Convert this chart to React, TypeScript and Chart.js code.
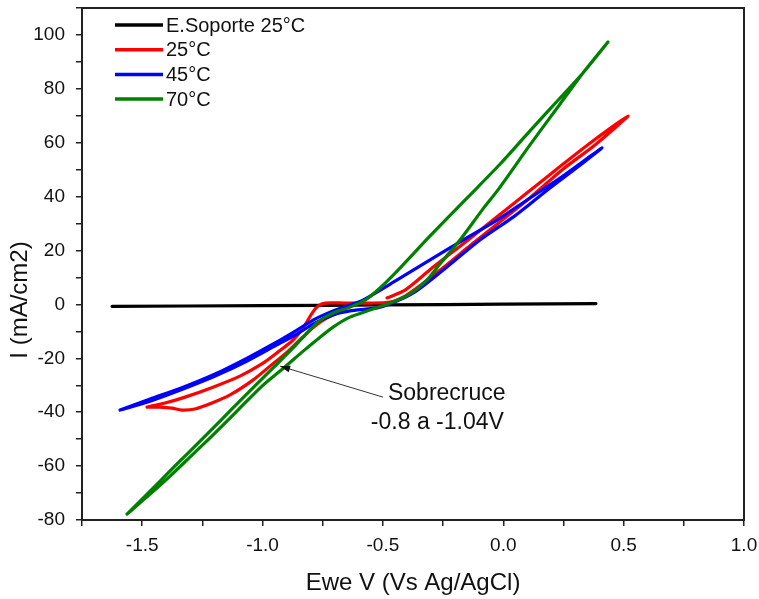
import { useEffect, useRef } from 'react';
import { Chart, registerables } from 'chart.js';

Chart.register(...registerables);

// ---- Data (Ewe V vs Ag/AgCl, I mA/cm2) ----
const soporteV = [-1.625, -1.0, -0.5, 0.0, 0.385];
const soporteI = [-0.7, -0.45, -0.2, 0.1, 0.3];

const t25V = [
  -0.483, -0.408, -0.296, -0.146, -0.022, 0.099, 0.228, 0.361, 0.518,
  0.381, 0.244, 0.115, -0.009, -0.13, -0.246, -0.337, -0.408, -0.47, -0.554, -0.657, -0.74, -0.77, -0.794, -0.832, -0.873, -0.936, -0.998, -1.094, -1.206, -1.322, -1.405, -1.48,
  -1.426, -1.376, -1.335, -1.281, -1.21, -1.135, -1.04, -0.969, -0.898, -0.832, -0.782, -0.732, -0.678,
];
const t25I = [
  2.4, 5.3, 13.5, 23.9, 32.8, 41.4, 50.6, 59.9, 69.9,
  59.2, 49.9, 39.9, 31.0, 22.4, 13.9, 7.6, 3.1, 0.9, 0.5, 0.5, 0.5, -0.7, -3.2, -8.8, -13.2, -17.7, -21.8, -26.6, -30.7, -34.4, -36.6, -38.1,
  -38.1, -38.5, -39.2, -38.8, -36.6, -33.6, -28.1, -22.9, -17.7, -12.1, -8.0, -5.0, -2.8,
];

const t45V = [
  -1.592, -1.467, -1.33, -1.197, -1.064, -0.948, -0.857, -0.79, -0.707, -0.637, -0.583, -0.441, -0.304, -0.167, -0.026, 0.111, 0.236, 0.34, 0.41,
  0.331, 0.194, 0.111, 0.041, -0.097, -0.234, -0.375, -0.512, -0.637, -0.707, -0.79, -0.857, -0.948, -1.064, -1.197, -1.33, -1.467, -1.592,
];
const t45I = [
  -39.2, -35.1, -30.7, -25.8, -19.9, -14.3, -9.5, -5.8, -2.4, -0.2, 1.6, 9.1, 16.5, 23.9, 31.3, 39.5, 46.9, 53.6, 58.1,
  52.5, 43.2, 37.3, 32.4, 23.9, 13.9, 4.2, -1.0, -2.4, -3.9, -7.3, -11.0, -15.4, -21.0, -26.6, -31.4, -35.9, -39.2,
];

const t70V = [
  -1.563, -1.467, -1.384, -1.301, -1.218, -1.127, -1.04, -0.952, -0.865, -0.811, -0.77, -0.707, -0.637, -0.574, -0.512, -0.429, -0.304, -0.15, -0.013, 0.111, 0.236, 0.331, 0.435,
  0.331, 0.236, 0.111, -0.022, -0.088, -0.18, -0.263, -0.317, -0.387, -0.47, -0.554, -0.637, -0.707, -0.77, -0.836, -0.907, -1.002, -1.102, -1.202, -1.293, -1.384, -1.467, -1.563,
];
const t70I = [
  -77.8, -69.3, -61.8, -54.4, -47.0, -38.8, -31.0, -23.2, -15.4, -10.2, -6.5, -3.2, -1.0, 1.6, 6.1, 13.5, 25.4, 39.5, 52.1, 64.4, 76.6, 85.9, 97.4,
  85.9, 74.4, 59.2, 42.5, 35.0, 23.9, 15.0, 9.1, 3.9, 0.5, -2.1, -4.7, -8.4, -12.8, -17.7, -23.2, -30.3, -39.2, -48.1, -55.9, -63.7, -70.4, -77.8,
];

const seriesLabels = ['E.Soporte 25°C', '25°C', '45°C', '70°C'];
const seriesColors = ['#000000', '#ff0000', '#0000ff', '#008000'];

const annotationLines = ['Sobrecruce', '-0.8 a -1.04V'];
const annotationTextPos = [
  { x: -0.479, y: -33.3 },
  { x: -0.55, y: -43.7 },
];
const arrowFrom = { x: -0.5, y: -34.4 };
const arrowTo = { x: -0.927, y: -22.9 };

const xTitle = 'Ewe V (Vs Ag/AgCl)';
const yTitle = 'I (mA/cm2)';

const FONT = '"Liberation Sans", Arial, Helvetica, sans-serif';

function toPoints(v: number[], i: number[]) {
  return v.map((x, k) => ({ x, y: i[k] }));
}

const decorPlugin = {
  id: 'decor',
  afterDraw(chart: any) {
    const { ctx, chartArea, scales } = chart;
    const { left, top, right, bottom } = chartArea;
    const xs = scales.x;
    const ys = scales.y;
    ctx.save();
    // frame
    ctx.strokeStyle = '#222';
    ctx.lineWidth = 2;
    ctx.strokeRect(left, top, right - left, bottom - top);

    // legend
    ctx.font = `20px ${FONT}`;
    ctx.textBaseline = 'middle';
    ctx.textAlign = 'left';
    chart.data.datasets.forEach((ds: any, k: number) => {
      const yy = top + 17 + k * 24.7;
      ctx.strokeStyle = ds.borderColor;
      ctx.lineWidth = 3.5;
      ctx.beginPath();
      ctx.moveTo(left + 33, yy);
      ctx.lineTo(left + 81, yy);
      ctx.stroke();
      ctx.fillStyle = '#111';
      ctx.fillText(ds.label, left + 84, yy + 1);
    });

    // annotation arrow
    const x0 = xs.getPixelForValue(arrowFrom.x);
    const y0 = ys.getPixelForValue(arrowFrom.y);
    const x1 = xs.getPixelForValue(arrowTo.x);
    const y1 = ys.getPixelForValue(arrowTo.y);
    ctx.strokeStyle = '#333';
    ctx.lineWidth = 1;
    ctx.beginPath();
    ctx.moveTo(x0, y0);
    ctx.lineTo(x1, y1);
    ctx.stroke();
    const ang = Math.atan2(y1 - y0, x1 - x0);
    const L = 10;
    const W = 3.5;
    ctx.fillStyle = '#111';
    ctx.beginPath();
    ctx.moveTo(x1, y1);
    ctx.lineTo(x1 - L * Math.cos(ang) + W * Math.sin(ang), y1 - L * Math.sin(ang) - W * Math.cos(ang));
    ctx.lineTo(x1 - L * Math.cos(ang) - W * Math.sin(ang), y1 - L * Math.sin(ang) + W * Math.cos(ang));
    ctx.closePath();
    ctx.fill();

    ctx.font = `23px ${FONT}`;
    ctx.fillStyle = '#111';
    ctx.textBaseline = 'middle';
    annotationLines.forEach((t, k) => {
      ctx.fillText(t, xs.getPixelForValue(annotationTextPos[k].x), ys.getPixelForValue(annotationTextPos[k].y));
    });

    // axis titles
    ctx.font = `24px ${FONT}`;
    ctx.textAlign = 'center';
    ctx.textBaseline = 'alphabetic';
    ctx.fillText(xTitle, (left + right) / 2, 590);
    ctx.save();
    ctx.translate(27, 300);
    ctx.rotate(-Math.PI / 2);
    ctx.fillText(yTitle, 0, 0);
    ctx.restore();
    ctx.restore();
  },
};

export default function App() {
  const ref = useRef<HTMLCanvasElement | null>(null);
  useEffect(() => {
    document.body.style.margin = '0';
    if (!ref.current) return;
    const series = [
      toPoints(soporteV, soporteI),
      toPoints(t25V, t25I),
      toPoints(t45V, t45I),
      toPoints(t70V, t70I),
    ];
    const chart = new Chart(ref.current, {
      type: 'scatter',
      data: {
        datasets: series.map((d, k) => ({
          label: seriesLabels[k],
          data: d,
          showLine: true,
          borderColor: seriesColors[k],
          backgroundColor: seriesColors[k],
          borderWidth: 3.2,
          pointRadius: 0,
          tension: 0.25,
          order: 4 - k,
          borderCapStyle: 'round',
          borderJoinStyle: 'round',
        })) as any,
      },
      options: {
        animation: false,
        responsive: false,
        layout: { padding: { left: 0, right: 15, top: 8, bottom: 0 } },
        plugins: { legend: { display: false }, tooltip: { enabled: false } },
        scales: {
          x: {
            type: 'linear',
            min: -1.75,
            max: 1.0,
            afterFit: (axis: any) => {
              axis.height = 79;
              axis.paddingLeft = 0;
              axis.paddingRight = 0;
              axis.paddingTop = 0;
              axis.paddingBottom = 0;
            },
            ticks: {
              stepSize: 0.25,
              autoSkip: false,
              maxRotation: 0,
              padding: 8,
              color: '#111',
              font: { family: FONT, size: 19 },
              callback: (v: any) => {
                const n = Number(v);
                return Math.abs(n * 2 - Math.round(n * 2)) < 1e-6 && n > -1.7 ? n.toFixed(1) : '';
              },
            },
            grid: { drawOnChartArea: false, drawTicks: true, tickLength: 6, color: '#222', lineWidth: 1.5 },
            border: { display: true, color: '#222', width: 2 },
          },
          y: {
            type: 'linear',
            min: -80,
            max: 110,
            afterFit: (axis: any) => {
              axis.width = 82;
              axis.paddingLeft = 0;
              axis.paddingRight = 0;
              axis.paddingTop = 0;
              axis.paddingBottom = 0;
            },
            ticks: {
              stepSize: 10,
              autoSkip: false,
              padding: 11,
              color: '#111',
              font: { family: FONT, size: 19 },
              callback: (v: any) => {
                const n = Number(v);
                return n % 20 === 0 && n <= 100 ? String(n) : '';
              },
            },
            grid: { drawOnChartArea: false, drawTicks: true, tickLength: 6, color: '#222', lineWidth: 1.5 },
            border: { display: true, color: '#222', width: 2 },
          },
        },
      },
      plugins: [decorPlugin],
    });
    return () => chart.destroy();
  }, []);
  return (
    <div style={{ width: 759, height: 599, background: '#fff' }}>
      <canvas ref={ref} width={759} height={599} />
    </div>
  );
}
